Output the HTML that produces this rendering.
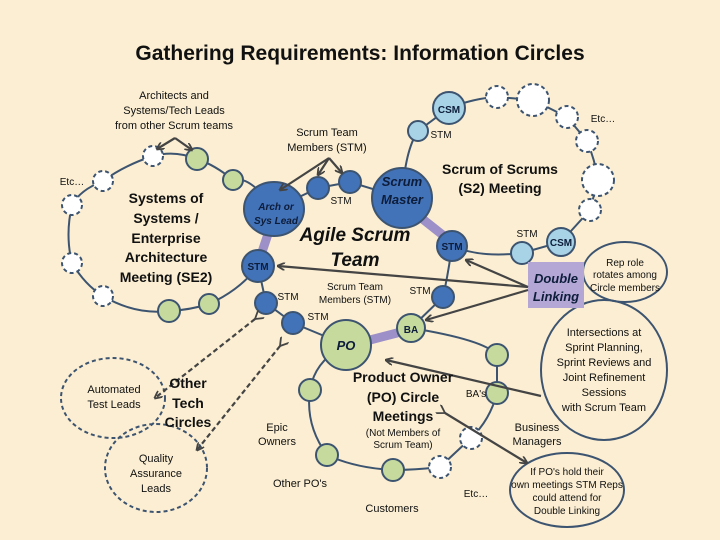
<!DOCTYPE html>
<html><head><meta charset="utf-8"><style>
html,body{margin:0;padding:0;background:#fbeed2;}
svg{display:block;font-family:"Liberation Sans",sans-serif;}
</style></head><body>
<svg width="720" height="540" viewBox="0 0 720 540" xmlns="http://www.w3.org/2000/svg">
<defs>
<marker id="a" markerWidth="8" markerHeight="8" refX="7" refY="4" orient="auto" markerUnits="userSpaceOnUse"><path d="M0,0 L8,4 L0,8" fill="none" stroke="#444" stroke-width="1.8"/></marker>
<marker id="as" markerWidth="10" markerHeight="10" refX="1" refY="5" orient="auto-start-reverse" markerUnits="userSpaceOnUse"><path d="M9,0 L1,5 L9,10" fill="none" stroke="#444" stroke-width="1.8"/></marker>
</defs>
<rect width="720" height="540" fill="#fbeed2"/>
<text x="360" y="60" font-size="21" font-weight="bold" text-anchor="middle" fill="#111">Gathering Requirements: Information Circles</text>

<g fill="none" stroke="#3d5470" stroke-width="2">
<path d="M274,209 Q250,175 233,180 Q215,165 197,159 Q175,150 153,156 Q125,165 103,181 Q80,190 72,205 Q65,235 72,263 Q85,285 103,296 Q135,315 169,311 Q190,310 209,304 Q240,290 258,266"/>
<path d="M274,209 L318,188 L350,182 L402,198 M452,246 Q448,275 443,297 L411,328 M346,345 L293,323 L266,303 L258,266"/>
<path d="M402,198 Q405,150 418,131 L449,108 Q475,98 497,97 L533,100 L567,117 L587,141 Q595,160 598,180 L590,210 L561,242 L522,253 Q480,258 452,246"/>
<path d="M411,328 Q485,340 497,355 L497,393 Q490,420 471,438 L440,467 Q415,470 393,470 Q355,468 327,455 Q305,425 310,390 Q315,360 346,345"/>
</g>
<g stroke="#9d8fc8" stroke-width="9" stroke-linecap="round">
<line x1="268" y1="234" x2="262" y2="252"/>
<line x1="420" y1="217" x2="444" y2="236"/>
<line x1="370" y1="340" x2="397" y2="333"/>
</g>

<g stroke="#3d5470" stroke-width="2">
<g fill="#fff" stroke-dasharray="4,3">
<circle cx="153" cy="156" r="10"/><circle cx="103" cy="181" r="10"/><circle cx="72" cy="205" r="10"/>
<circle cx="72" cy="263" r="10"/><circle cx="103" cy="296" r="10"/>
<circle cx="497" cy="97" r="11"/><circle cx="533" cy="100" r="16"/><circle cx="567" cy="117" r="11"/>
<circle cx="587" cy="141" r="11"/><circle cx="598" cy="180" r="16"/><circle cx="590" cy="210" r="11"/>
<circle cx="471" cy="438" r="11"/><circle cx="440" cy="467" r="11"/>
</g>
<g fill="#c6da9e">
<circle cx="197" cy="159" r="11"/><circle cx="233" cy="180" r="10"/><circle cx="169" cy="311" r="11"/><circle cx="209" cy="304" r="10"/>
<circle cx="411" cy="328" r="14"/><circle cx="346" cy="345" r="25"/><circle cx="497" cy="355" r="11"/><circle cx="497" cy="393" r="11"/>
<circle cx="393" cy="470" r="11"/><circle cx="327" cy="455" r="11"/><circle cx="310" cy="390" r="11"/>
</g>
<g fill="#a8d2e6">
<circle cx="418" cy="131" r="10"/><circle cx="449" cy="108" r="16"/><circle cx="561" cy="242" r="14"/><circle cx="522" cy="253" r="11"/>
</g>
<g fill="#4272b8">
<ellipse cx="274" cy="209" rx="30" ry="27"/><circle cx="258" cy="266" r="16"/><circle cx="318" cy="188" r="11"/><circle cx="350" cy="182" r="11"/>
<circle cx="402" cy="198" r="30"/><circle cx="452" cy="246" r="15"/><circle cx="443" cy="297" r="11"/><circle cx="293" cy="323" r="11"/><circle cx="266" cy="303" r="11"/>
</g>
<ellipse cx="625" cy="272" rx="42" ry="30" fill="none"/>
<ellipse cx="604" cy="370" rx="63" ry="70" fill="none"/>
<ellipse cx="567" cy="490" rx="57" ry="37" fill="none"/>
<g fill="none" stroke-dasharray="4,3">
<ellipse cx="113" cy="398" rx="52" ry="40"/><ellipse cx="156" cy="468" rx="51" ry="44"/>
</g>
</g>
<rect x="528" y="262" width="56" height="46" fill="#b4a7d6"/>

<g stroke="#444" stroke-width="2.2" fill="none">
<line x1="175" y1="138" x2="157" y2="149" marker-end="url(#a)"/>
<line x1="175" y1="138" x2="192" y2="150" marker-end="url(#a)"/>
<line x1="329" y1="158" x2="280" y2="190" marker-end="url(#a)"/>
<line x1="329" y1="158" x2="318" y2="175" marker-end="url(#a)"/>
<line x1="329" y1="158" x2="342" y2="173" marker-end="url(#a)"/>
<line x1="528" y1="287" x2="278" y2="266" marker-end="url(#a)"/>
<line x1="528" y1="287" x2="466" y2="260" marker-end="url(#a)"/>
<line x1="528" y1="290" x2="426" y2="320" marker-end="url(#a)"/>
<line x1="541" y1="396" x2="386" y2="360" marker-end="url(#a)"/>
<line x1="445" y1="413" x2="527" y2="463" marker-start="url(#as)" marker-end="url(#a)"/>
<g stroke-dasharray="5,3">
<line x1="255" y1="319" x2="155" y2="398" marker-start="url(#as)" marker-end="url(#a)"/>
<line x1="280" y1="346" x2="197" y2="450" marker-start="url(#as)" marker-end="url(#a)"/>
</g>
</g>

<g fill="#111" font-size="11" text-anchor="middle">
<text x="174" y="99">Architects and</text>
<text x="174" y="114">Systems/Tech Leads</text>
<text x="174" y="129">from other Scrum teams</text>
<text x="327" y="136">Scrum Team</text>
<text x="327" y="151">Members (STM)</text>
<text x="72" y="185" font-size="10">Etc…</text>
<text x="603" y="122" font-size="10">Etc…</text>
<g font-size="14" font-weight="bold">
<text x="166" y="203">Systems of</text><text x="166" y="223">Systems /</text><text x="166" y="243">Enterprise</text>
<text x="166" y="262">Architecture</text><text x="166" y="282">Meeting (SE2)</text>
</g>
<g font-style="italic" font-weight="bold" fill="#0d1d3a">
<text x="276" y="210" font-size="10">Arch or</text><text x="276" y="224" font-size="10">Sys Lead</text>
<text x="402" y="186" font-size="13">Scrum</text><text x="402" y="204" font-size="13">Master</text>
<text x="346" y="350" font-size="13">PO</text>
</g>
<g font-style="italic" font-weight="bold" font-size="19">
<text x="355" y="241">Agile Scrum</text><text x="355" y="266">Team</text>
</g>
<g font-size="10" font-weight="bold" fill="#0d1d3a">
<text x="258" y="270">STM</text><text x="452" y="250">STM</text><text x="449" y="113">CSM</text><text x="561" y="246">CSM</text>
<text x="411" y="333">BA</text>
</g>
<g font-size="10">
<text x="341" y="204">STM</text><text x="441" y="138">STM</text><text x="527" y="237">STM</text>
<text x="420" y="294">STM</text><text x="288" y="300">STM</text><text x="318" y="320">STM</text>
<text x="355" y="290">Scrum Team</text><text x="355" y="303">Members (STM)</text>
</g>
<g font-size="14" font-weight="bold">
<text x="500" y="174">Scrum of Scrums</text><text x="500" y="193">(S2) Meeting</text>
<text x="403" y="382">Product Owner</text><text x="403" y="402">(PO) Circle</text><text x="403" y="421">Meetings</text>
<text x="188" y="388">Other</text><text x="188" y="408">Tech</text><text x="188" y="427">Circles</text>
</g>
<g font-style="italic" font-weight="bold" font-size="13" fill="#0d1d3a">
<text x="556" y="283">Double</text><text x="556" y="301">Linking</text>
</g>
<g font-size="10">
<text x="625" y="266">Rep role</text><text x="625" y="278">rotates among</text><text x="625" y="291">Circle members</text>
<text x="403" y="436">(Not Members of</text><text x="403" y="448">Scrum Team)</text>
<text x="476" y="397">BA's</text>
<text x="567" y="475">If PO's hold their</text><text x="567" y="488">own meetings STM Reps</text>
<text x="567" y="501">could attend for</text><text x="567" y="514">Double Linking</text>
<text x="476" y="497">Etc…</text>
</g>
<g font-size="11">
<text x="604" y="336">Intersections at</text><text x="604" y="351">Sprint Planning,</text><text x="604" y="366">Sprint Reviews and</text>
<text x="604" y="381">Joint Refinement</text><text x="604" y="396">Sessions</text><text x="604" y="411">with Scrum Team</text>
<text x="537" y="431">Business</text><text x="537" y="445">Managers</text>
<text x="277" y="431">Epic</text><text x="277" y="445">Owners</text>
<text x="300" y="487">Other PO's</text><text x="392" y="512">Customers</text>
<text x="114" y="393">Automated</text><text x="114" y="408">Test Leads</text>
<text x="156" y="462">Quality</text><text x="156" y="477">Assurance</text><text x="156" y="492">Leads</text>
</g>
</g>
</svg>
</body></html>
